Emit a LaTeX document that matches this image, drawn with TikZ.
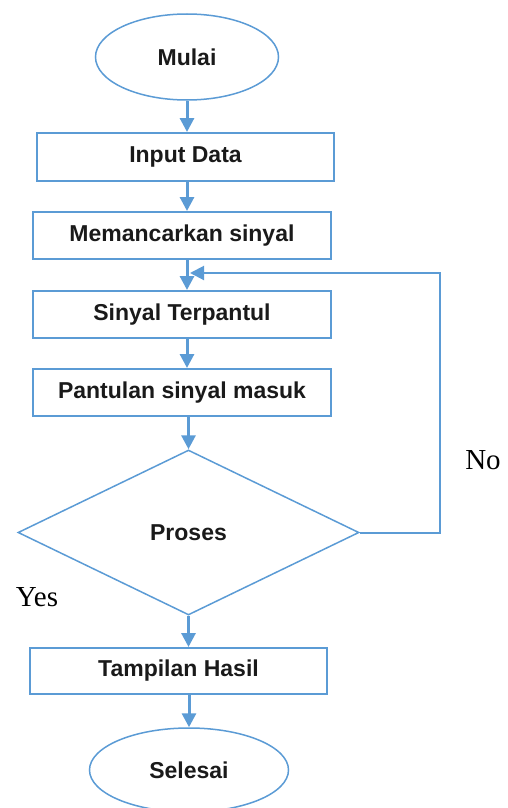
\documentclass[tikz,border=0pt]{standalone}
\usepackage{fontspec}
\setmainfont{Liberation Serif}
\setsansfont{Liberation Sans}
\usetikzlibrary{arrows.meta,shapes.geometric}
\definecolor{Line}{HTML}{5B9BD5}
\definecolor{Ink}{HTML}{1A1A1A}
\tikzset{terminal/.style={ellipse,draw=Line,line width=1.5pt,inner sep=0pt,text=Ink,font=\sffamily\bfseries\fontsize{23}{27}\selectfont},process/.style={rectangle,draw=Line,line width=2pt,minimum width=297pt,minimum height=47pt,inner sep=0pt,text=Ink,font=\sffamily\bfseries\fontsize{23}{27}\selectfont},decision/.style={diamond,draw=Line,line width=1.5pt,minimum width=341pt,minimum height=165pt,inner sep=0pt,text=Ink,font=\sffamily\bfseries\fontsize{23}{27}\selectfont},answer/.style={font=\fontsize{29}{34}\selectfont,inner sep=0pt},flow/.style={-{Triangle[width=14pt,length=14pt]},line width=3pt,draw=Line}}
\begin{document}
\begin{tikzpicture}[x=1pt,y=-1pt]
      \useasboundingbox(0,0)rectangle(507,808);
      \clip(0,0)rectangle(507,808);
      \node[terminal,minimum width=183pt,minimum height=86pt](mulai)at(187,57){Mulai};
      \node[process,minimum height=48pt](input)at(185.5,157){Input Data};
      \node[process,minimum width=298pt](pancar)at(182,235.5){Memancarkan sinyal};
      \node[process,minimum width=298pt](pantul)at(182,314.5){Sinyal Terpantul};
      \node[process,minimum width=298pt](masuk)at(182,392.5){Pantulan sinyal masuk};
      \node[decision](proses)at(188.5,532.5){Proses};
      \node[process,minimum height=46pt](hasil)at(178.5,671){Tampilan Hasil};
      \node[terminal,minimum width=199pt,minimum height=84pt](selesai)at(189,770){Selesai};
      \node[answer](no)at(483,460){No};
      \node[answer](yes)at(37,597){Yes};
      \coordinate(loop)at(440,273);\coordinate(join)at(190,273);
      \draw[flow](mulai)--(mulai|-input.north);\draw[flow](mulai|-input.south)--(mulai|-pancar.north);
      \draw[flow](mulai|-pancar.south)--(mulai|-pantul.north);\draw[flow](mulai|-pantul.south)--(mulai|-masuk.north);
      \draw[flow](proses|-masuk.south)--(proses);\draw[flow](proses)--(proses|-hasil.north);
      \draw[flow](selesai|-hasil.south)--(selesai);
      \draw[flow,line width=2pt](proses.east)-|(loop)--(join);
    \end{tikzpicture}
\end{document}
